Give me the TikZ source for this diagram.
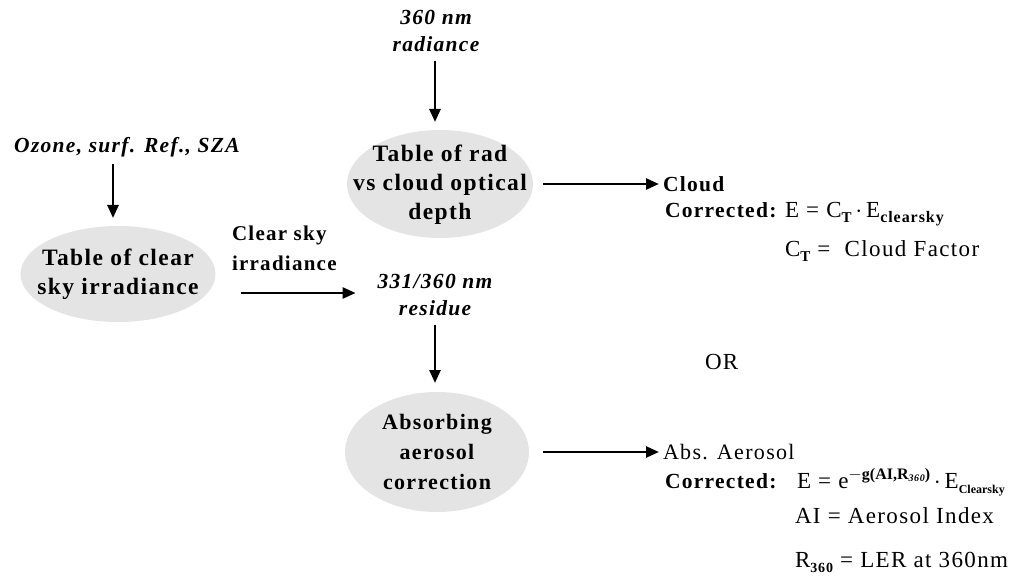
\documentclass[tikz,border=0pt]{standalone}
\usepackage{fontspec}
\setmainfont{Liberation Serif}[LetterSpace=6]
\newfontfamily\tightfont{Liberation Serif}
\usetikzlibrary{shapes.geometric,arrows.meta}
\definecolor{ellgray}{HTML}{E4E4E4}
\newcommand{\subb}[2]{\raisebox{-5pt}{\fontsize{#1}{#1}\selectfont\bfseries #2}}
\newcommand{\supp}[2]{\raisebox{9pt}{\fontsize{#1}{#1}\selectfont\bfseries #2}}
\begin{document}
\begin{tikzpicture}[x=1pt,y=-1pt,
  every node/.style={inner sep=0pt,outer sep=0pt},
  ell/.style={ellipse,fill=ellgray},
  elltxt/.style={align=center,font=\fontsize{23.5}{29}\selectfont\bfseries},
  inp/.style={align=center,font=\fontsize{21.5}{27}\selectfont\bfseries\itshape},
  lbl/.style={align=left,font=\fontsize{21}{30}\selectfont\bfseries},
  txt/.style={anchor=base west,font=\fontsize{23}{27}\selectfont},
  btxt/.style={anchor=base west,font=\fontsize{21.5}{27}\selectfont\bfseries},
  arr/.style={line width=2.6pt,-{Triangle[length=13pt,width=11pt]}}]
\useasboundingbox (0,0) rectangle (1023,580);
% inputs
\node[inp] (ozone) at (127,147) {Ozone, surf. Ref., SZA};
\node[inp] (rad) at (436,31) {360 nm\\radiance};
\node[inp] (residue) at (435,295) {331/360 nm\\residue};
% ellipses
\node[ell,minimum width=195pt,minimum height=96pt,
  label={[elltxt]center:{Table of clear\\sky irradiance}}] (e1) at (118,274) {};
\node[ell,minimum width=186pt,minimum height=108pt,
  label={[elltxt,yshift=-1pt]center:{Table of rad\\vs cloud optical\\depth}}] (e2) at (440,184) {};
\node[ell,minimum width=184pt,minimum height=120pt,
  label={[elltxt,font=\fontsize{22}{30}\selectfont\bfseries]center:{Absorbing\\aerosol\\correction}}] (e3) at (437,452) {};
% labels
\node[lbl,anchor=west] (clabel) at (232,248) {Clear sky\\irradiance};
\node[btxt] (cloud) at (663,192) {Cloud};
\node[btxt] (corr1) at (665,218) {Corrected:};
\node[txt] (f1) at (785,218) {E = C\subb{15}{T}\,$\cdot$\,E\subb{16}{clearsky}};
\node[txt] (ct) at (785,257) {C\subb{15}{T} = \ Cloud Factor};
\node[txt] (or) at (705,369) {OR};
\node[txt,font=\fontsize{22}{27}\selectfont] (abs) at (663,459) {Abs. Aerosol};
\node[btxt] (corr2) at (665,488) {Corrected:};
\node[txt] (form) at (797,488) {E = e\supp{16}{{\tightfont$-$g(AI,R}\raisebox{-2pt}{\fontsize{10}{10}\selectfont\itshape 360}{\tightfont)}}\,$\cdot$\,E\subb{12}{\tightfont Clearsky}};
\node[txt] (ai) at (795,523) {AI = Aerosol Index};
\node[txt] (r360) at (795,567) {R\subb{14}{360} = LER at 360nm};
% arrows
\draw[arr,shorten <=7pt,shorten >=8pt] ([xshift=-14pt]ozone.south) -- ([xshift=-14pt]ozone.south |- e1.north);
\draw[arr,shorten <=9pt,shorten >=8pt] ([xshift=-1pt]rad.south) -- ([xshift=-1pt]rad.south |- e2.north);
\draw[arr,shorten <=10pt,shorten >=4pt] (e2.east) -- (e2.east -| cloud.west);
\draw[arr,shorten <=25pt,shorten >=22pt] ([yshift=-19pt]e1.east) -- ([yshift=-19pt]e1.east -| residue.west);
\draw[arr,shorten <=9pt,shorten >=9pt] (residue.south) -- (residue.south |- e3.north);
\draw[arr,shorten <=14pt,shorten >=4pt] (e3.east) -- (e3.east -| abs.west);
\end{tikzpicture}
\end{document}
